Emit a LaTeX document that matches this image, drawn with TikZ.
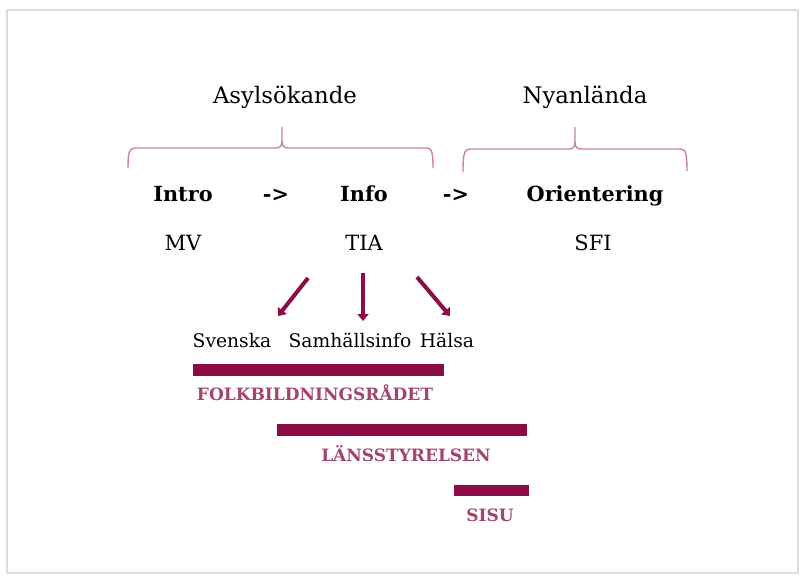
\documentclass[tikz,border=0pt]{standalone}
\usepackage{fontspec}
\setmainfont{DejaVu Serif}
\usetikzlibrary{arrows.meta}
\definecolor{bar}{HTML}{8C0C46}
\definecolor{lab}{HTML}{A3436E}
\definecolor{brace}{HTML}{C6849E}
\definecolor{frame}{HTML}{DCDCDC}
\tikzset{
  head/.style={font=\fontsize{22.8}{26}\selectfont, inner sep=0pt, anchor=base},
  stage/.style={font=\fontsize{20.8}{24}\selectfont\bfseries, inner sep=0pt, anchor=base},
  org/.style={font=\fontsize{21}{24}\selectfont, inner sep=0pt, anchor=base},
  topic/.style={font=\fontsize{18.7}{22}\selectfont, inner sep=0pt, anchor=base},
  agency/.style={font=\fontsize{17}{20}\selectfont\bfseries, text=lab, inner sep=0pt, anchor=base},
  bracepath/.style={draw=brace, line width=1.4pt},
  barline/.style={draw=none, fill=bar},
  pointer/.style={draw=bar, line width=4pt, -{Triangle[length=7pt,width=11pt]}}
}
\begin{document}
\begin{tikzpicture}[x=1pt,y=-1pt]
\useasboundingbox (0,0) rectangle (805,576);
\fill[white] (0,0) rectangle (805,576);
\draw[frame, line width=1.6pt] (7,10) rectangle (798,573);

% headings
\node[head] (asyl) at (285,103) {Asylsökande};
\node[head] (nyan) at (585,103) {Nyanlända};

% braces
\draw[bracepath] (128,168) .. controls (128,153) and (129,148) .. (135,148)
  -- (276,148) .. controls (280,148) and (282,146) .. (282,141) -- (282,127);
\draw[bracepath] (282,141) .. controls (282,146) and (284,148) .. (288,148)
  -- (427,148) .. controls (432,148) and (433,153) .. (433,168);
\draw[bracepath] (463,172) .. controls (463,155) and (464,149) .. (470,149)
  -- (569,149) .. controls (573,149) and (575,147) .. (575,142) -- (575,127);
\draw[bracepath] (575,142) .. controls (575,147) and (577,149) .. (581,149)
  -- (681,149) .. controls (686,149) and (687,155) .. (687,171);

% stages
\node[stage] (intro) at (183,201.5) {Intro};
\node[stage] (a1) at (276,201.5) {->};
\node[stage] (info) at (364,201.5) {Info};
\node[stage] (a2) at (456,201.5) {->};
\node[stage] (orient) at (595,201.5) {Orientering};

\node[org] (mv) at (183,250.5) {MV};
\node[org] (tia) at (364,250.5) {TIA};
\node[org] (sfi) at (593,250.5) {SFI};

% topics
\node[topic] (sv) at (232,347) {Svenska};
\node[topic] (sam) at (350,347) {Samhällsinfo};
\node[topic] (hal) at (447,347) {Hälsa};

% arrows
\coordinate (l0) at (308,278);
\coordinate (l1) at (278,316);
\coordinate (m0) at (363,273);
\coordinate (m1) at (363,321);
\coordinate (r0) at (417,277);
\coordinate (r1) at (450,316);
\draw[pointer] (l0) -- (l1);
\draw[pointer] (m0) -- (m1);
\draw[pointer] (r0) -- (r1);

% bars
\fill[barline] (193,364) rectangle (444,376);
\node[agency] (folk) at (315,400) {FOLKBILDNINGSRÅDET};
\fill[barline] (277,424) rectangle (527,436);
\node[agency] (lans) at (406,461) {LÄNSSTYRELSEN};
\fill[barline] (454,485) rectangle (529,496);
\node[agency] (sisu) at (490,521.5) {SISU};
\end{tikzpicture}
\end{document}
